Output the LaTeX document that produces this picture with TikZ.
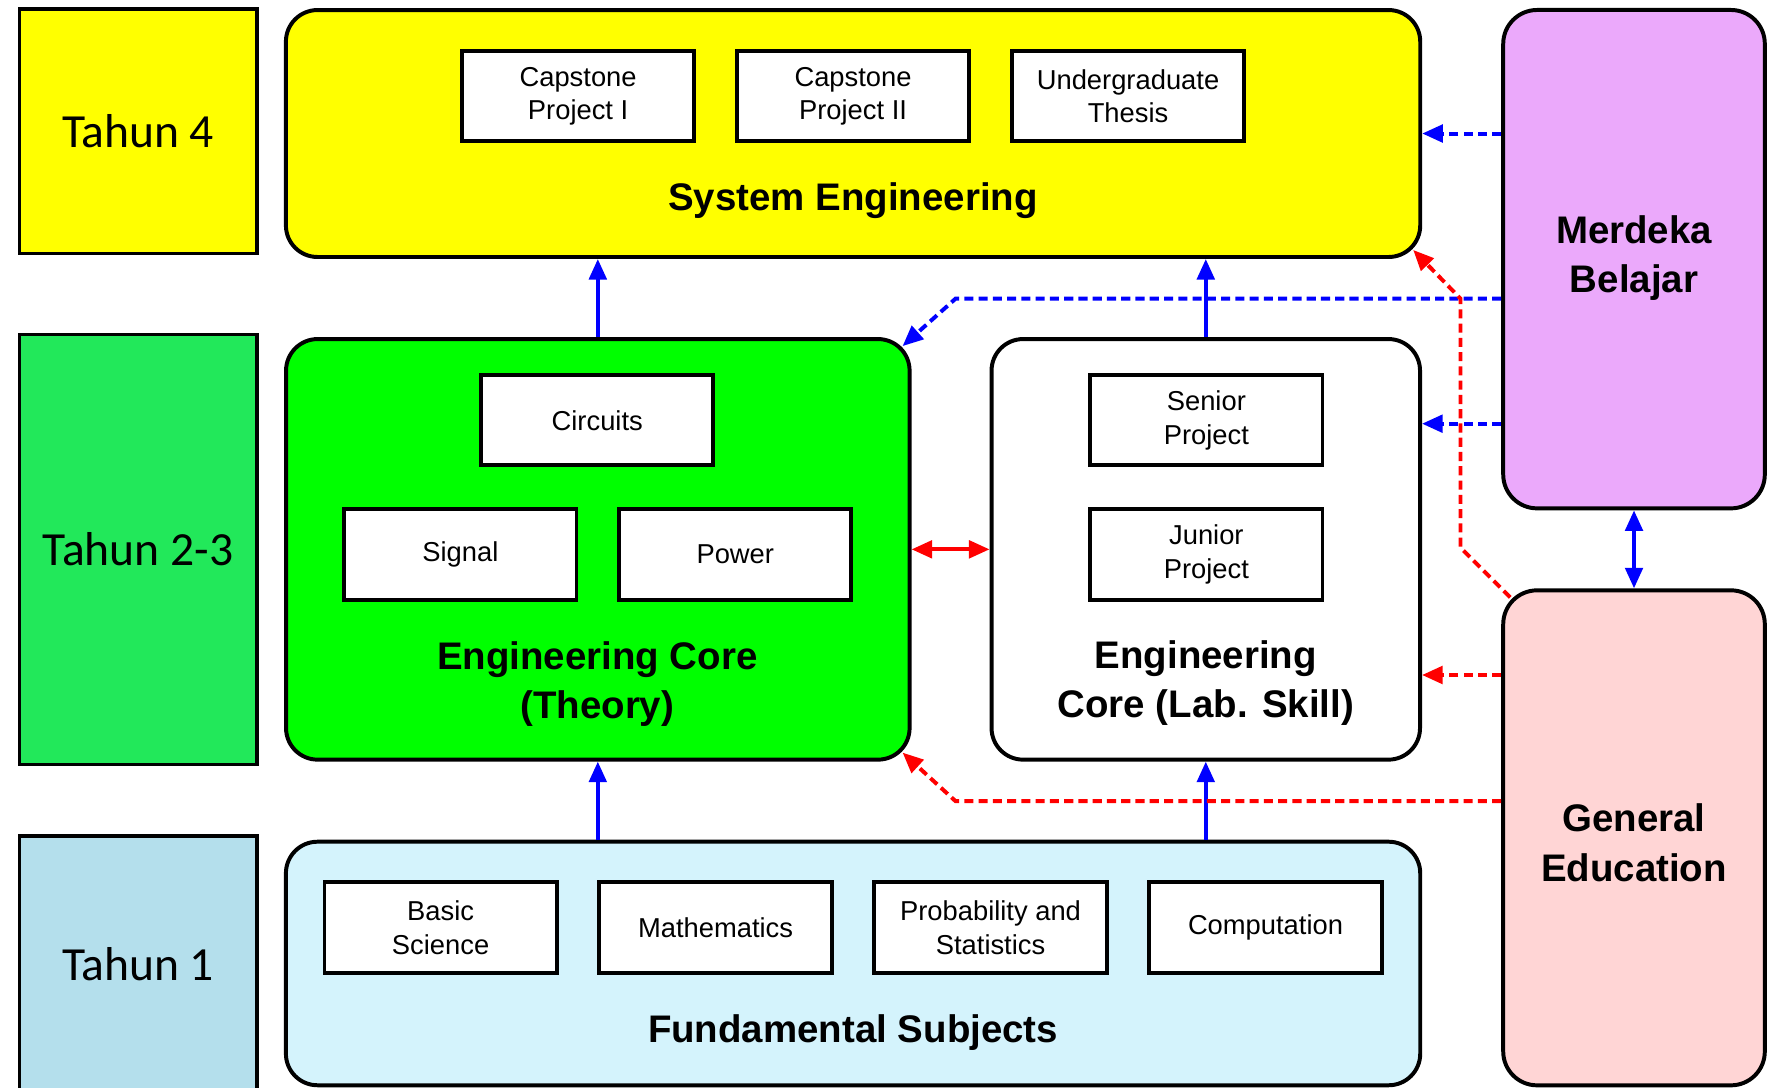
\documentclass[tikz,border=0pt]{standalone}
\usepackage{fontspec}
\setmainfont{Liberation Sans}
\newfontfamily\yearfont{Carlito}
\usetikzlibrary{arrows.meta,calc}

\definecolor{yrfour}{HTML}{FFFF00}
\definecolor{yrtwothree}{HTML}{22E85A}
\definecolor{yrone}{HTML}{B4DFEC}
\definecolor{theorygreen}{HTML}{00FF00}
\definecolor{fundcyan}{HTML}{D4F3FC}
\definecolor{merdekaviolet}{HTML}{EBA9FB}
\definecolor{genedpink}{HTML}{FFD5D5}
\definecolor{linkblue}{HTML}{0000FF}
\definecolor{linkred}{HTML}{FF0000}

\begin{document}
\begin{tikzpicture}[x=0.01cm,y=-0.01cm,
  yearbox/.style={draw=black, line width=0.8pt, inner sep=0pt,
    font=\yearfont\fontsize{12}{14}\selectfont},
  group/.style={draw=black, line width=1pt, rounded corners=0.28cm, inner sep=0pt},
  course/.style={draw=black, line width=1pt, fill=white, minimum width=2.06cm,
    minimum height=0.80cm, inner sep=0pt, align=center,
    font=\fontsize{6.9}{8.5}\selectfont},
  grouptitle/.style={align=center, inner sep=0pt,
    font=\bfseries\fontsize{9.7}{12.5}\selectfont},
  tip/.tip={Triangle[length=5.2pt,width=4.4pt]},
  solidlink/.style={line width=1pt, -tip},
  bothlink/.style={line width=1pt, tip-tip},
  dashlink/.style={line width=1pt, dash pattern=on 2.3pt off 1.3pt, -tip},
]
\useasboundingbox (0,0) rectangle (1568,965);
\fill[white] (0,0) rectangle (1568,965);

% year labels
\node[yearbox, fill=yrfour, minimum width=2.11cm, minimum height=2.17cm] (y4) at (122.5,116.5) {Tahun 4};
\node[yearbox, fill=yrtwothree, minimum width=2.11cm, minimum height=3.81cm] (y23) at (122.5,487.5) {Tahun 2-3};
\node[yearbox, fill=yrone, minimum width=2.11cm, minimum height=2.60cm] (y1) at (122.5,872) {};
\node[font=\yearfont\fontsize{12}{14}\selectfont, inner sep=0pt] (y1t) at (122.5,856) {Tahun 1};

% system engineering
\node[group, fill=yrfour, minimum width=10.06cm, minimum height=2.19cm] (se) at (757,118.5) {};
\node[course] (cp1) at (513,85.5) {Capstone\\Project I};
\node[course] (cp2) at (757,85.5) {Capstone\\Project II};
\node[course] (ut) at (1001,85.5) {Undergraduate\\Thesis};
\node[grouptitle] (set) at (757,178) {System Engineering};

% engineering core (theory)
\node[group, fill=theorygreen, minimum width=5.53cm, minimum height=3.73cm] (th) at (530.5,487.5) {};
\node[course] (circ) at (530,373) {Circuits};
\node[course] (sig) at (408.5,492) {Signal};
\node[course] (pow) at (652.5,492) {Power};
\node[grouptitle] (tht) at (530,607) {Engineering Core\\(Theory)};

% engineering core (lab skill)
\node[group, fill=white, minimum width=3.80cm, minimum height=3.73cm] (lab) at (1070,487.5) {};
\node[course] (sen) at (1070.5,373) {Senior\\Project};
\node[course] (jun) at (1070.5,492) {Junior\\Project};
\node[grouptitle] (labt) at (1070,606) {Engineering\\Core (Lab. Skill)};

% fundamental subjects
\node[group, fill=fundcyan, minimum width=10.06cm, minimum height=2.16cm] (fs) at (757,855) {};
\node[course] (bs) at (391,823) {Basic\\Science};
\node[course] (math) at (635,823) {Mathematics};
\node[course] (ps) at (879,823) {Probability and\\Statistics};
\node[course] (comp) at (1123,823) {Computation};
\node[grouptitle] (fst) at (757,916) {Fundamental Subjects};

% side blocks
\node[group, fill=merdekaviolet, rounded corners=0.30cm, minimum width=2.32cm, minimum height=4.42cm] (mb) at (1450,230) {};
\node[grouptitle] (mbt) at (1450,229) {Merdeka\\Belajar};
\node[group, fill=genedpink, rounded corners=0.30cm, minimum width=2.32cm, minimum height=4.39cm] (ge) at (1450,743.5) {};
\node[grouptitle] (get) at (1450,748) {General\\Education};

% bends and levels of the routed links
\coordinate (bbend) at (848,265);
\coordinate (senlevel) at (1300,376);
\coordinate (lablevel) at (1300,599);
\coordinate (rbendlow) at (1296,486);
\coordinate (rbendhigh) at (1296,265);
\coordinate (rbendth) at (848,711);

% progression between levels
\draw[solidlink, linkblue] (th.north) -- (th.north |- se.south);
\draw[solidlink, linkblue] (lab.north) -- (lab.north |- se.south);
\draw[solidlink, linkblue] (fs.north -| th.south) -- (th.south);
\draw[solidlink, linkblue] (fs.north -| lab.south) -- (lab.south);
\draw[bothlink, linkred] (th.east) -- (lab.west);
\draw[bothlink, linkblue] (mb.south) -- (ge.north);

% merdeka belajar links
\draw[dashlink, linkblue] (mb.west |- se.east) -- (se.east);
\draw[dashlink, linkblue] (mb.west |- senlevel) -- (lab.east |- senlevel);
\draw[dashlink, linkblue] (mb.west |- bbend) -- (bbend) -- ($(th.north east)+(-8,8)$);

% general education links
\draw[dashlink, linkred] ($(ge.north west)+(8,8)$) -- (rbendlow) -- (rbendhigh) -- ($(se.south east)+(-8,-8)$);
\draw[dashlink, linkred] (ge.west |- lablevel) -- (lab.east |- lablevel);
\draw[dashlink, linkred] (ge.west |- rbendth) -- (rbendth) -- ($(th.south east)+(-8,-8)$);
\end{tikzpicture}
\end{document}
